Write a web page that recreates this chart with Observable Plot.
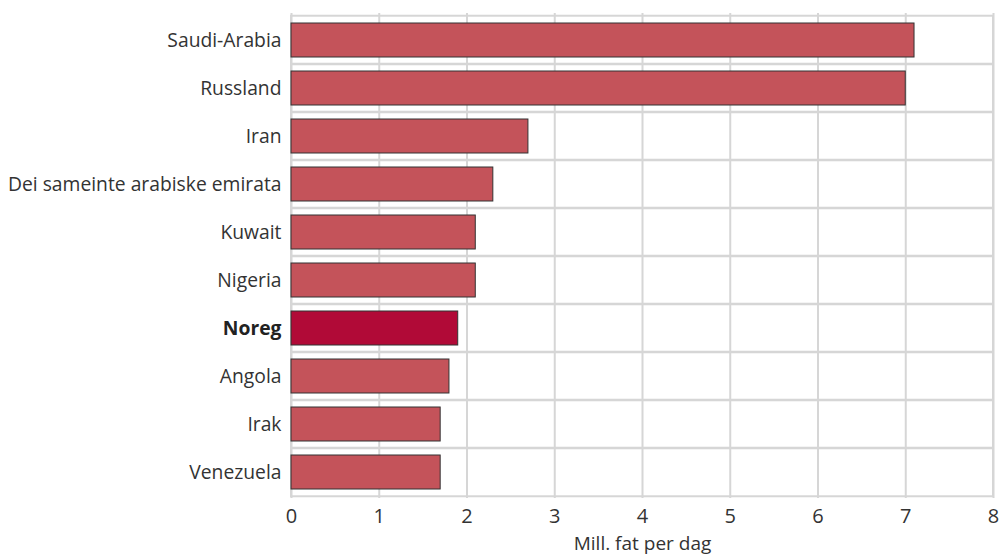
<!DOCTYPE html>
<html>
<head>
<meta charset="utf-8">
<script src="https://cdn.jsdelivr.net/npm/d3@7"></script>
<script src="https://cdn.jsdelivr.net/npm/@observablehq/plot@0.6"></script>
<style>
  html, body { margin: 0; padding: 0; background: #fff; }
  svg { display: block; }
</style>
</head>
<body>
<div id="chart"></div>
<script>
const countries = ["Saudi-Arabia", "Russland", "Iran", "Dei sameinte arabiske emirata", "Kuwait", "Nigeria", "Noreg", "Angola", "Irak", "Venezuela"];
const production = [7.1, 7.0, 2.7, 2.3, 2.1, 2.1, 1.9, 1.8, 1.7, 1.7];
const highlight = "Noreg";
const xTicks = [0, 1, 2, 3, 4, 5, 6, 7, 8];
const xLabel = "Mill. fat per dag";

const data = countries.map((c, i) => ({country: c, value: production[i]}));

const height = 556, marginTop = 13, marginBottom = 58;
const step = (height - marginTop - marginBottom) / 10;
const halfGap = step * 0.15;

const chart = Plot.plot({
  width: 1001,
  height,
  marginLeft: 291,
  marginRight: 8,
  marginTop,
  marginBottom,
  style: {fontFamily: "'Open Sans', sans-serif", fontSize: "20px", color: "#333", background: "#fff"},
  x: {domain: [0, 8], ticks: xTicks},
  y: {domain: countries, paddingInner: 0.3, paddingOuter: 0.15, axis: null},
  marks: [
    Plot.barX(countries, {y: d => d, x1: 0, x2: 8, fill: "none", stroke: "#d6d6d6", strokeWidth: 2, insetTop: -halfGap, insetBottom: -halfGap}),
    Plot.ruleX(xTicks, {stroke: "#d6d6d6", strokeWidth: 2}),
    Plot.axisX({ticks: xTicks, tickSize: 0, tickPadding: 10, fontSize: 20, label: null}),
    Plot.text([xLabel], {frameAnchor: "bottom", lineAnchor: "middle", dy: 45, text: d => d, fill: "#333", fontSize: 19}),
    Plot.barX(data, {y: "country", x: "value", fill: d => d.country === highlight ? "#b10a37" : "#c4535a", stroke: "#333", strokeWidth: 1}),
    Plot.text(data.filter(d => d.country !== highlight), {y: "country", x: 0, text: "country", textAnchor: "end", dx: -10, fill: "#333", fontSize: 19.3}),
    Plot.text(data.filter(d => d.country === highlight), {y: "country", x: 0, text: "country", textAnchor: "end", dx: -10, fill: "#222", fontSize: 19.3, fontWeight: "bold"})
  ]
});
document.getElementById("chart").append(chart);
</script>
</body>
</html>
